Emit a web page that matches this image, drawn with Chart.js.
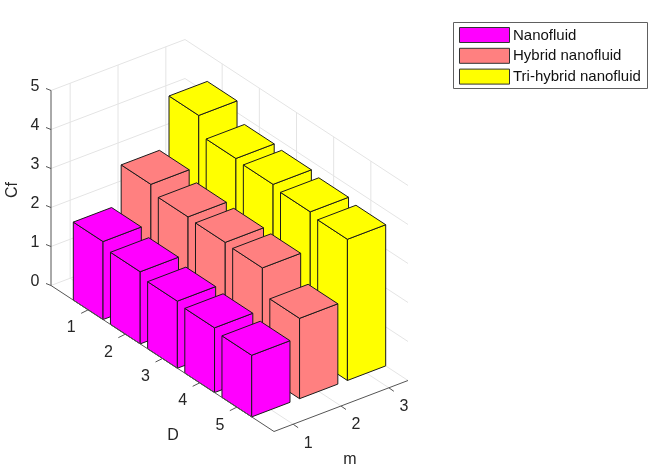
<!DOCTYPE html>
<html>
<head>
<meta charset="utf-8">
<title>Cf</title>
<script src="https://cdn.jsdelivr.net/npm/chart.js@4"></script>
<style>
  html, body { margin: 0; padding: 0; background: #fff; }
  canvas { display: block; }
</style>
</head>
<body>
<canvas id="grafico" width="662" height="475"></canvas>
<script>
// valores
const categoriesD = [1, 2, 3, 4, 5];
const ticksM = [1, 2, 3];
const ticksCf = [0, 1, 2, 3, 4, 5];
const seriesLabels = ['Nanofluid', 'Hybrid nanofluid', 'Tri-hybrid nanofluid'];
const nanofluid = [2.0, 1.85, 1.72, 1.66, 1.58];
const hybrid = [3.0, 2.79, 2.76, 2.73, 2.06];
const triHybrid = [4.3, 3.82, 3.78, 3.7, 3.62];
const seriesColors = ['#ff00ff', '#ff8080', '#ffff00'];

// projeção da caixa 3D: canto esquerdo e vetores dos eixos, em pixels
const origem = { x: 51, y: 285.5 };
const vetorD = { x: 223, y: 146 };
const vetorM = { x: 134, y: -51 };
const alturaCf = 195;
const larguraBarra = 0.8;
const corTexto = '#262626';
const corGrade = '#e4e4e4';
const fonte = '"Liberation Sans", Arial, sans-serif';

function decimal(escala, valor) {
    return (escala.getPixelForValue(valor) - escala.left) / escala.width;
}

function projetar(chart, d, m, cf) {
    const s = chart.scales;
    const fd = decimal(s.x, d);
    const fm = decimal(s.m, m);
    const fz = (s.y.bottom - s.y.getPixelForValue(cf)) / s.y.height;
    return {
        x: origem.x + fd * vetorD.x + fm * vetorM.x,
        y: origem.y + fd * vetorD.y + fm * vetorM.y - fz * alturaCf
    };
}

function linha(ctx, a, b) {
    ctx.beginPath();
    ctx.moveTo(a.x, a.y);
    ctx.lineTo(b.x, b.y);
    ctx.stroke();
}

function poligono(ctx, pts, cor) {
    ctx.beginPath();
    pts.forEach((p, i) => i ? ctx.lineTo(p.x, p.y) : ctx.moveTo(p.x, p.y));
    ctx.closePath();
    ctx.fillStyle = cor;
    ctx.fill();
    ctx.stroke();
}

function desenharGrade(chart, ctx) {
    const s = chart.scales;
    const P = (d, m, cf) => projetar(chart, d, m, cf);
    ctx.strokeStyle = corGrade;
    ctx.lineWidth = 1;
    ticksCf.forEach(v => {
        linha(ctx, P(s.x.min, s.m.min, v), P(s.x.min, s.m.max, v));
        linha(ctx, P(s.x.min, s.m.max, v), P(s.x.max, s.m.max, v));
    });
    ticksM.forEach(v => {
        linha(ctx, P(s.x.min, v, s.y.min), P(s.x.min, v, s.y.max));
        linha(ctx, P(s.x.min, v, s.y.min), P(s.x.max, v, s.y.min));
    });
    categoriesD.forEach(v => {
        linha(ctx, P(v, s.m.max, s.y.min), P(v, s.m.max, s.y.max));
        linha(ctx, P(v, s.m.min, s.y.min), P(v, s.m.max, s.y.min));
    });
}

function desenharBarras(chart, ctx) {
    const meia = larguraBarra / 2;
    ctx.strokeStyle = '#1a1a1a';
    ctx.lineWidth = 1;
    ctx.lineJoin = 'round';
    // de trás para a frente
    for (let i = chart.data.datasets.length - 1; i >= 0; i--) {
        const ds = chart.data.datasets[i];
        ds.data.forEach(ponto => {
            const d0 = ponto.x - meia, d1 = ponto.x + meia;
            const m0 = ds.m - meia, m1 = ds.m + meia;
            const P = (d, m, cf) => projetar(chart, d, m, cf);
            poligono(ctx, [P(d0, m0, 0), P(d1, m0, 0), P(d1, m0, ponto.y), P(d0, m0, ponto.y)], ds.backgroundColor);
            poligono(ctx, [P(d1, m0, 0), P(d1, m1, 0), P(d1, m1, ponto.y), P(d1, m0, ponto.y)], ds.backgroundColor);
            poligono(ctx, [P(d0, m0, ponto.y), P(d1, m0, ponto.y), P(d1, m1, ponto.y), P(d0, m1, ponto.y)], ds.backgroundColor);
        });
    }
}

function desenharEixos(chart, ctx) {
    const s = chart.scales;
    const P = (d, m, cf) => projetar(chart, d, m, cf);
    const canto = P(s.x.max, s.m.min, 0);
    ctx.lineWidth = 1;
    ctx.strokeStyle = '#555555';
    linha(ctx, P(s.x.min, s.m.min, s.y.min), P(s.x.min, s.m.min, s.y.max));
    linha(ctx, P(s.x.min, s.m.min, 0), canto);
    linha(ctx, canto, P(s.x.max, s.m.max, 0));

    ctx.fillStyle = corTexto;
    ctx.font = '16px ' + fonte;
    ctx.textAlign = 'center';
    ctx.textBaseline = 'middle';

    s.y.ticks.forEach(t => {
        const p = P(s.x.min, s.m.min, t.value);
        linha(ctx, p, { x: p.x - 5, y: p.y - 2 });
        ctx.fillText(String(t.value), p.x - 16, p.y - 4);
    });
    s.x.ticks.forEach(t => {
        const p = P(t.value, s.m.min, 0);
        linha(ctx, p, { x: p.x - 7, y: p.y + 3.5 });
        ctx.fillText(String(t.value), p.x - 17, p.y + 18);
    });
    s.m.ticks.forEach(t => {
        const p = P(s.x.max, t.value, 0);
        linha(ctx, p, { x: p.x + 5, y: p.y + 3.5 });
        ctx.fillText(String(t.value), p.x + 15, p.y + 19);
    });

    // títulos dos eixos
    ctx.font = '16px ' + fonte;
    ctx.fillText('D', 173, 436);
    ctx.fillText('m', 350, 460);
    ctx.save();
    ctx.translate(13, 190);
    ctx.rotate(-Math.PI / 2);
    ctx.fillText('Cf', 0, 0);
    ctx.restore();
}

function desenharLegenda(chart, ctx) {
    ctx.fillStyle = '#ffffff';
    ctx.fillRect(453.5, 22.5, 194, 66);
    ctx.strokeStyle = '#606060';
    ctx.lineWidth = 1;
    ctx.strokeRect(453.5, 22.5, 194, 66);
    ctx.textAlign = 'left';
    ctx.textBaseline = 'middle';
    ctx.font = '15px ' + fonte;
    chart.data.datasets.forEach((ds, i) => {
        const y = 27 + i * 20.8;
        ctx.fillStyle = ds.backgroundColor;
        ctx.strokeStyle = '#333333';
        ctx.fillRect(459.5, y + 0.5, 50, 15);
        ctx.strokeRect(459.5, y + 0.5, 50, 15);
        ctx.fillStyle = '#111111';
        ctx.fillText(ds.label, 513, y + 8.5);
    });
}

const marcarTicks = valores => escala => { escala.ticks = valores.map(value => ({ value })); };

// o Chart.js calcula as escalas; a projeção desenha as faces
const plugin3d = {
    id: 'barras3d',
    beforeDatasetsDraw(chart) {
        const ctx = chart.ctx;
        ctx.save();
        desenharGrade(chart, ctx);
        desenharBarras(chart, ctx);
        desenharEixos(chart, ctx);
        desenharLegenda(chart, ctx);
        ctx.restore();
        return false;
    }
};

const pontos = valores => valores.map((v, i) => ({ x: categoriesD[i], y: v }));

new Chart(document.getElementById('grafico').getContext('2d'), {
    type: 'bar',
    data: {
        datasets: [nanofluid, hybrid, triHybrid].map((valores, i) => ({
            label: seriesLabels[i],
            data: pontos(valores),
            m: ticksM[i],
            backgroundColor: seriesColors[i],
            borderColor: '#000000'
        }))
    },
    options: {
        responsive: false,
        animation: false,
        events: [],
        plugins: { legend: { display: false }, tooltip: { enabled: false } },
        scales: {
            x: { type: 'linear', offset: false, min: 0, max: 6, display: false, afterBuildTicks: marcarTicks(categoriesD) },
            m: { type: 'linear', axis: 'x', position: 'bottom', offset: false, min: 0.6, max: 3.4, display: false, afterBuildTicks: marcarTicks(ticksM) },
            y: { type: 'linear', min: 0, max: 5, display: false, afterBuildTicks: marcarTicks(ticksCf) }
        }
    },
    plugins: [plugin3d]
});
</script>
</body>
</html>
